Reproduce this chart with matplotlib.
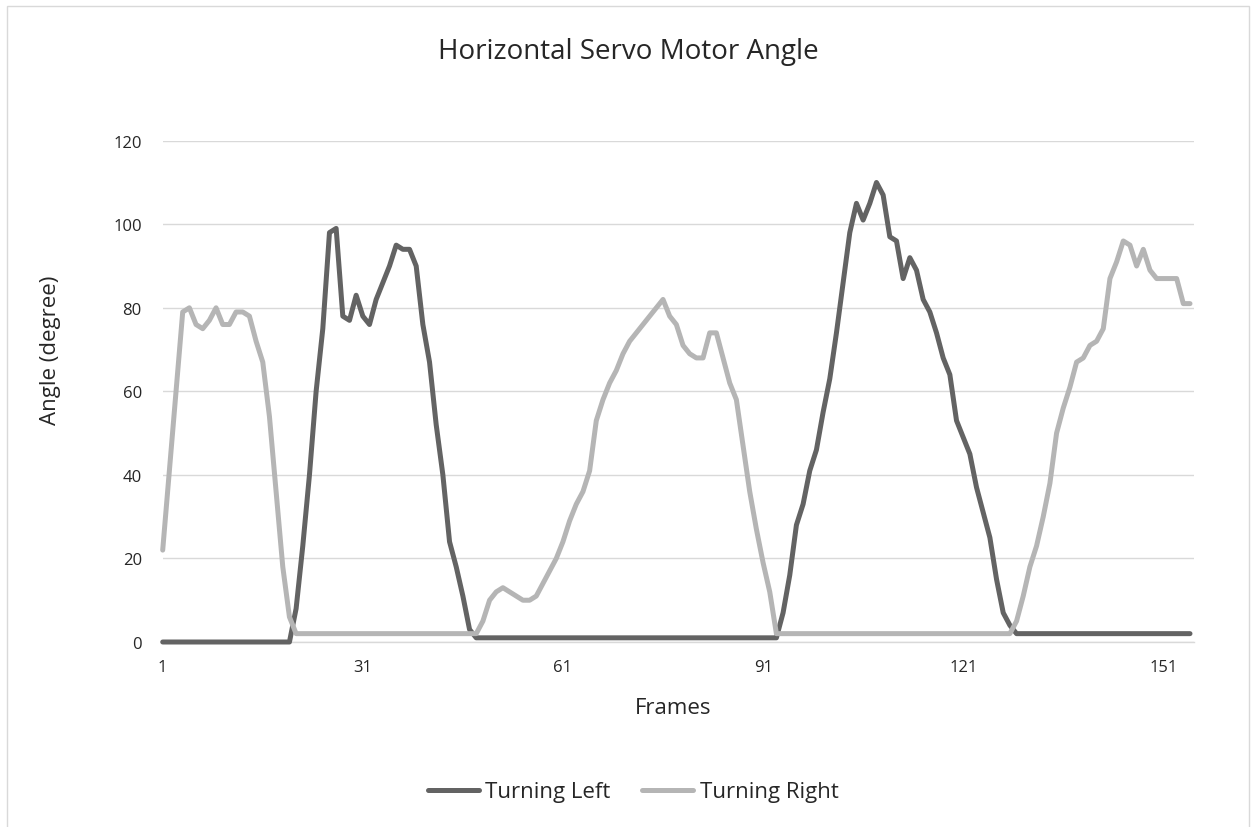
import matplotlib
matplotlib.use("Agg")
import matplotlib.pyplot as plt
from matplotlib.patches import Rectangle

plt.rcParams['font.family'] = ['Open Sans', 'DejaVu Sans']

# ---------------- data ----------------
frames = list(range(1, 156))

turning_left = (
    [0] * 20
    + [8, 23, 40, 60, 75, 98, 99, 78, 77, 83, 78, 76, 82, 86, 90, 95, 94, 94, 90, 76,
       67, 52, 40, 24, 18, 11, 3]
    + [1] * 46
    + [7, 16, 28, 33, 41, 46, 55, 63, 74, 86, 98, 105, 101, 105, 110, 107, 97, 96, 87, 92,
       89, 82, 79, 74, 68, 64, 53, 49, 45, 37, 31, 25, 15, 7, 4]
    + [2] * 27
)

turning_right = (
    [22, 41, 60, 79, 80, 76, 75, 77, 80, 76, 76, 79, 79, 78, 72, 67, 54, 36, 18, 6]
    + [2] * 28
    + [5, 10, 12, 13, 12, 11, 10, 10, 11, 14, 17, 20, 24, 29, 33, 36, 41, 53, 58, 62,
       65, 69, 72, 74, 76, 78, 80, 82, 78, 76, 71, 69, 68, 68, 74, 74, 68, 62, 58, 47,
       36, 27, 19, 12]
    + [2] * 36
    + [5, 11, 18, 23, 30, 38, 50, 56, 61, 67, 68, 71, 72, 75, 87, 91, 96, 95, 90, 94,
       89, 87, 87, 87, 87, 81, 81]
)

series_names = ["Turning Left", "Turning Right"]
x_ticks = [1, 31, 61, 91, 121, 151]
y_ticks = [0, 20, 40, 60, 80, 100, 120]

# ---------------- layout ----------------
W, H = 1252, 828
fig = plt.figure(figsize=(W / 100, H / 100), dpi=100)

def fx(px):
    return px / W

def fy(py):
    return 1 - py / H

left, right, top, bottom = 162.7, 1194.0, 141.7, 643.0
ax = fig.add_axes([fx(left), fy(bottom), fx(right - left), (bottom - top) / H])

dark = "#636363"
light = "#B5B5B5"
txt = "#262626"
grid = "#D9D9D9"

ax.plot(frames, turning_left, color=dark, lw=3.6, solid_capstyle='round',
        solid_joinstyle='round', label=series_names[0], zorder=3, clip_on=False)
ax.plot(frames, turning_right, color=light, lw=3.6, solid_capstyle='round',
        solid_joinstyle='round', label=series_names[1], zorder=3, clip_on=False)

ax.set_xlim(1, 155.6)
ax.set_ylim(0, 120)
ax.set_xticks(x_ticks)
ax.set_yticks(y_ticks)
ax.tick_params(length=0, labelsize=12, colors=txt)
ax.tick_params(axis='x', pad=12)
ax.tick_params(axis='y', pad=15)
ax.grid(axis='y', color=grid, lw=1.0, zorder=0)
ax.set_axisbelow(True)
for s in ['left', 'right', 'top']:
    ax.spines[s].set_visible(False)
ax.spines['bottom'].set_color(grid)
ax.spines['bottom'].set_linewidth(1.0)

fig.text(fx(628), fy(52), "Horizontal Servo Motor Angle", ha='center', va='center',
         fontsize=20, color=txt)
fig.text(fx(673), fy(709), "Frames", ha='center', va='center', fontsize=16, color=txt)
fig.text(fx(51), fy(350), "Angle (degree)", ha='center', va='center', rotation=90,
         fontsize=16, color=txt)

fig.legend(loc='center', bbox_to_anchor=(fx(633), fy(793)), ncol=2, frameon=False,
           fontsize=16, handlelength=2.3, handletextpad=0.3, columnspacing=1.4,
           labelcolor=txt)

fig.patches.append(Rectangle((fx(7), fy(830)), fx(1249 - 7), (830 - 7) / H,
                             transform=fig.transFigure, fill=False, edgecolor=grid,
                             lw=1.0))

fig.savefig("out.png", dpi=100, facecolor='white')
